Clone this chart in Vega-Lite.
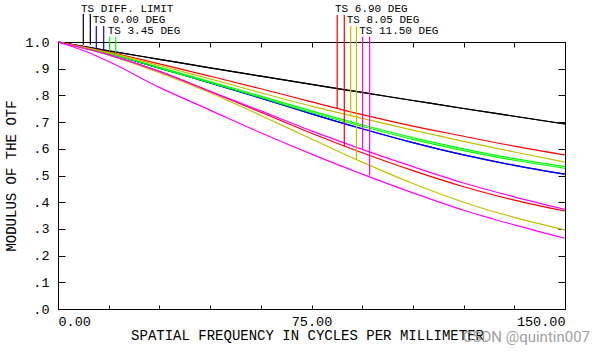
{
  "$schema": "https://vega.github.io/schema/vega-lite/v6.json",
  "width": 507,
  "height": 267,
  "autosize": {"type": "none"},
  "padding": {"left": 58, "top": 42, "right": 30, "bottom": 46},
  "background": "white",
  "config": {
    "view": {"stroke": "black", "strokeWidth": 1},
    "axis": {"grid": false, "domain": false, "tickColor": "black", "labelColor": "black", "titleColor": "black", "labelFont": "Liberation Mono", "titleFont": "Liberation Mono", "titleFontWeight": "normal", "labelFontSize": 13.5, "titleFontSize": 14}
  },
  "datasets": {
    "curves": [
      {"fld": "DIFF. LIMIT", "ts": "T", "f": 0, "v": 1.0}, {"fld": "DIFF. LIMIT", "ts": "T", "f": 15, "v": 0.967}, {"fld": "DIFF. LIMIT", "ts": "T", "f": 30, "v": 0.935}, {"fld": "DIFF. LIMIT", "ts": "T", "f": 45, "v": 0.903}, {"fld": "DIFF. LIMIT", "ts": "T", "f": 60, "v": 0.872}, {"fld": "DIFF. LIMIT", "ts": "T", "f": 75, "v": 0.841}, {"fld": "DIFF. LIMIT", "ts": "T", "f": 90, "v": 0.811}, {"fld": "DIFF. LIMIT", "ts": "T", "f": 105, "v": 0.781}, {"fld": "DIFF. LIMIT", "ts": "T", "f": 120, "v": 0.751}, {"fld": "DIFF. LIMIT", "ts": "T", "f": 135, "v": 0.722}, {"fld": "DIFF. LIMIT", "ts": "T", "f": 150, "v": 0.693},
      {"fld": "DIFF. LIMIT", "ts": "S", "f": 0, "v": 1.0}, {"fld": "DIFF. LIMIT", "ts": "S", "f": 15, "v": 0.967}, {"fld": "DIFF. LIMIT", "ts": "S", "f": 30, "v": 0.935}, {"fld": "DIFF. LIMIT", "ts": "S", "f": 45, "v": 0.903}, {"fld": "DIFF. LIMIT", "ts": "S", "f": 60, "v": 0.872}, {"fld": "DIFF. LIMIT", "ts": "S", "f": 75, "v": 0.841}, {"fld": "DIFF. LIMIT", "ts": "S", "f": 90, "v": 0.811}, {"fld": "DIFF. LIMIT", "ts": "S", "f": 105, "v": 0.781}, {"fld": "DIFF. LIMIT", "ts": "S", "f": 120, "v": 0.751}, {"fld": "DIFF. LIMIT", "ts": "S", "f": 135, "v": 0.722}, {"fld": "DIFF. LIMIT", "ts": "S", "f": 150, "v": 0.693},
      {"fld": "0.00", "ts": "T", "f": 0, "v": 1.0}, {"fld": "0.00", "ts": "T", "f": 15, "v": 0.957}, {"fld": "0.00", "ts": "T", "f": 30, "v": 0.902}, {"fld": "0.00", "ts": "T", "f": 45, "v": 0.847}, {"fld": "0.00", "ts": "T", "f": 60, "v": 0.79}, {"fld": "0.00", "ts": "T", "f": 75, "v": 0.731}, {"fld": "0.00", "ts": "T", "f": 90, "v": 0.675}, {"fld": "0.00", "ts": "T", "f": 105, "v": 0.623}, {"fld": "0.00", "ts": "T", "f": 120, "v": 0.577}, {"fld": "0.00", "ts": "T", "f": 135, "v": 0.538}, {"fld": "0.00", "ts": "T", "f": 150, "v": 0.505},
      {"fld": "0.00", "ts": "S", "f": 0, "v": 1.0}, {"fld": "0.00", "ts": "S", "f": 15, "v": 0.957}, {"fld": "0.00", "ts": "S", "f": 30, "v": 0.902}, {"fld": "0.00", "ts": "S", "f": 45, "v": 0.847}, {"fld": "0.00", "ts": "S", "f": 60, "v": 0.79}, {"fld": "0.00", "ts": "S", "f": 75, "v": 0.731}, {"fld": "0.00", "ts": "S", "f": 90, "v": 0.675}, {"fld": "0.00", "ts": "S", "f": 105, "v": 0.623}, {"fld": "0.00", "ts": "S", "f": 120, "v": 0.577}, {"fld": "0.00", "ts": "S", "f": 135, "v": 0.538}, {"fld": "0.00", "ts": "S", "f": 150, "v": 0.505},
      {"fld": "3.45", "ts": "T", "f": 0, "v": 1.0}, {"fld": "3.45", "ts": "T", "f": 15, "v": 0.958}, {"fld": "3.45", "ts": "T", "f": 30, "v": 0.905}, {"fld": "3.45", "ts": "T", "f": 45, "v": 0.852}, {"fld": "3.45", "ts": "T", "f": 60, "v": 0.797}, {"fld": "3.45", "ts": "T", "f": 75, "v": 0.742}, {"fld": "3.45", "ts": "T", "f": 90, "v": 0.69}, {"fld": "3.45", "ts": "T", "f": 105, "v": 0.642}, {"fld": "3.45", "ts": "T", "f": 120, "v": 0.6}, {"fld": "3.45", "ts": "T", "f": 135, "v": 0.563}, {"fld": "3.45", "ts": "T", "f": 150, "v": 0.533},
      {"fld": "3.45", "ts": "S", "f": 0, "v": 1.0}, {"fld": "3.45", "ts": "S", "f": 15, "v": 0.957}, {"fld": "3.45", "ts": "S", "f": 30, "v": 0.902}, {"fld": "3.45", "ts": "S", "f": 45, "v": 0.848}, {"fld": "3.45", "ts": "S", "f": 60, "v": 0.792}, {"fld": "3.45", "ts": "S", "f": 75, "v": 0.736}, {"fld": "3.45", "ts": "S", "f": 90, "v": 0.684}, {"fld": "3.45", "ts": "S", "f": 105, "v": 0.635}, {"fld": "3.45", "ts": "S", "f": 120, "v": 0.593}, {"fld": "3.45", "ts": "S", "f": 135, "v": 0.557}, {"fld": "3.45", "ts": "S", "f": 150, "v": 0.527},
      {"fld": "6.90", "ts": "T", "f": 0, "v": 1.0}, {"fld": "6.90", "ts": "T", "f": 15, "v": 0.962}, {"fld": "6.90", "ts": "T", "f": 30, "v": 0.918}, {"fld": "6.90", "ts": "T", "f": 45, "v": 0.872}, {"fld": "6.90", "ts": "T", "f": 60, "v": 0.825}, {"fld": "6.90", "ts": "T", "f": 75, "v": 0.776}, {"fld": "6.90", "ts": "T", "f": 90, "v": 0.728}, {"fld": "6.90", "ts": "T", "f": 105, "v": 0.685}, {"fld": "6.90", "ts": "T", "f": 120, "v": 0.647}, {"fld": "6.90", "ts": "T", "f": 135, "v": 0.61}, {"fld": "6.90", "ts": "T", "f": 150, "v": 0.577},
      {"fld": "6.90", "ts": "S", "f": 0, "v": 1.0}, {"fld": "6.90", "ts": "S", "f": 15, "v": 0.952}, {"fld": "6.90", "ts": "S", "f": 30, "v": 0.89}, {"fld": "6.90", "ts": "S", "f": 45, "v": 0.815}, {"fld": "6.90", "ts": "S", "f": 60, "v": 0.737}, {"fld": "6.90", "ts": "S", "f": 75, "v": 0.658}, {"fld": "6.90", "ts": "S", "f": 90, "v": 0.585}, {"fld": "6.90", "ts": "S", "f": 105, "v": 0.518}, {"fld": "6.90", "ts": "S", "f": 120, "v": 0.458}, {"fld": "6.90", "ts": "S", "f": 135, "v": 0.408}, {"fld": "6.90", "ts": "S", "f": 150, "v": 0.367},
      {"fld": "8.05", "ts": "T", "f": 0, "v": 1.0}, {"fld": "8.05", "ts": "T", "f": 15, "v": 0.96}, {"fld": "8.05", "ts": "T", "f": 30, "v": 0.912}, {"fld": "8.05", "ts": "T", "f": 45, "v": 0.862}, {"fld": "8.05", "ts": "T", "f": 60, "v": 0.81}, {"fld": "8.05", "ts": "T", "f": 75, "v": 0.76}, {"fld": "8.05", "ts": "T", "f": 90, "v": 0.714}, {"fld": "8.05", "ts": "T", "f": 105, "v": 0.67}, {"fld": "8.05", "ts": "T", "f": 120, "v": 0.628}, {"fld": "8.05", "ts": "T", "f": 135, "v": 0.588}, {"fld": "8.05", "ts": "T", "f": 150, "v": 0.55},
      {"fld": "8.05", "ts": "S", "f": 0, "v": 1.0}, {"fld": "8.05", "ts": "S", "f": 15, "v": 0.951}, {"fld": "8.05", "ts": "S", "f": 30, "v": 0.885}, {"fld": "8.05", "ts": "S", "f": 45, "v": 0.81}, {"fld": "8.05", "ts": "S", "f": 60, "v": 0.725}, {"fld": "8.05", "ts": "S", "f": 75, "v": 0.637}, {"fld": "8.05", "ts": "S", "f": 90, "v": 0.55}, {"fld": "8.05", "ts": "S", "f": 105, "v": 0.47}, {"fld": "8.05", "ts": "S", "f": 120, "v": 0.4}, {"fld": "8.05", "ts": "S", "f": 135, "v": 0.343}, {"fld": "8.05", "ts": "S", "f": 150, "v": 0.296},
      {"fld": "11.50", "ts": "T", "f": 0, "v": 1.0}, {"fld": "11.50", "ts": "T", "f": 15, "v": 0.952}, {"fld": "11.50", "ts": "T", "f": 30, "v": 0.89}, {"fld": "11.50", "ts": "T", "f": 45, "v": 0.815}, {"fld": "11.50", "ts": "T", "f": 60, "v": 0.742}, {"fld": "11.50", "ts": "T", "f": 75, "v": 0.667}, {"fld": "11.50", "ts": "T", "f": 90, "v": 0.598}, {"fld": "11.50", "ts": "T", "f": 105, "v": 0.533}, {"fld": "11.50", "ts": "T", "f": 120, "v": 0.472}, {"fld": "11.50", "ts": "T", "f": 135, "v": 0.42}, {"fld": "11.50", "ts": "T", "f": 150, "v": 0.373},
      {"fld": "11.50", "ts": "S", "f": 0, "v": 1.0}, {"fld": "11.50", "ts": "S", "f": 7.5, "v": 0.968}, {"fld": "11.50", "ts": "S", "f": 15, "v": 0.927}, {"fld": "11.50", "ts": "S", "f": 30, "v": 0.83}, {"fld": "11.50", "ts": "S", "f": 45, "v": 0.745}, {"fld": "11.50", "ts": "S", "f": 60, "v": 0.66}, {"fld": "11.50", "ts": "S", "f": 75, "v": 0.58}, {"fld": "11.50", "ts": "S", "f": 90, "v": 0.505}, {"fld": "11.50", "ts": "S", "f": 105, "v": 0.435}, {"fld": "11.50", "ts": "S", "f": 120, "v": 0.37}, {"fld": "11.50", "ts": "S", "f": 135, "v": 0.315}, {"fld": "11.50", "ts": "S", "f": 150, "v": 0.265}
    ],
    "keys": [
      {"fld": "DIFF. LIMIT", "f": 7.49, "lo": 0.99, "hi": 1.105},
      {"fld": "DIFF. LIMIT", "f": 9.56, "lo": 0.99, "hi": 1.105},
      {"fld": "0.00", "f": 11.33, "lo": 0.975, "hi": 1.06},
      {"fld": "0.00", "f": 13.52, "lo": 0.972, "hi": 1.06},
      {"fld": "3.45", "f": 15.3, "lo": 0.965, "hi": 1.02},
      {"fld": "3.45", "f": 17.07, "lo": 0.96, "hi": 1.02},
      {"fld": "6.90", "f": 82.6, "lo": 0.75, "hi": 1.101},
      {"fld": "6.90", "f": 84.7, "lo": 0.608, "hi": 1.101},
      {"fld": "8.05", "f": 86.6, "lo": 0.726, "hi": 1.06},
      {"fld": "8.05", "f": 88.3, "lo": 0.558, "hi": 1.06},
      {"fld": "11.50", "f": 90.1, "lo": 0.598, "hi": 1.02},
      {"fld": "11.50", "f": 92.2, "lo": 0.5, "hi": 1.02}
    ],
    "labels": [
      {"f": 6.8, "v": 1.111, "label": "TS DIFF. LIMIT"},
      {"f": 10.27, "v": 1.07, "label": "TS 0.00 DEG"},
      {"f": 14.7, "v": 1.029, "label": "TS 3.45 DEG"},
      {"f": 81.95, "v": 1.111, "label": "TS 6.90 DEG"},
      {"f": 85.4, "v": 1.07, "label": "TS 8.05 DEG"},
      {"f": 89.1, "v": 1.029, "label": "TS 11.50 DEG"}
    ],
    "mark": [
      {"f": 157.4, "v": -0.125, "label": "CSDN @quintin007"}
    ]
  },
  "layer": [
    {
      "data": {"name": "curves"},
      "mark": {"type": "line", "strokeWidth": 1.2, "interpolate": "monotone"},
      "encoding": {
        "x": {"field": "f", "type": "quantitative", "scale": {"domain": [0, 150], "nice": false},
          "axis": {"orient": "bottom", "values": [0, 15, 30, 45, 60, 75, 90, 105, 120, 135, 150], "labelExpr": "datum.value % 75 == 0 ? format(datum.value, '.2f') : ''", "labelFlush": true, "tickSize": -4, "labelPadding": 9, "title": "SPATIAL FREQUENCY IN CYCLES PER MILLIMETER", "titlePadding": 1, "titleX": 249}},
        "y": {"field": "v", "type": "quantitative", "scale": {"domain": [0, 1], "nice": false},
          "axis": {"orient": "left", "values": [0, 0.1, 0.2, 0.3, 0.4, 0.5, 0.6, 0.7, 0.8, 0.9, 1], "labelExpr": "datum.value >= 1 ? '1.0' : '.' + format(datum.value * 10, 'd')", "tickSize": -7, "labelPadding": 16, "title": "MODULUS OF THE OTF", "titlePadding": 6}},
        "color": {"field": "fld", "type": "nominal", "legend": null,
          "scale": {"domain": ["DIFF. LIMIT", "0.00", "3.45", "6.90", "8.05", "11.50"], "range": ["#000000", "#0000ff", "#00ff00", "#ff0000", "#c0c000", "#ff00ff"]}},
        "detail": {"field": "ts", "type": "nominal"}
      }
    },
    {
      "data": {"name": "keys"},
      "mark": {"type": "rule", "strokeWidth": 1.2},
      "encoding": {
        "x": {"field": "f", "type": "quantitative", "scale": {"domain": [0, 150], "nice": false},
          "axis": {"orient": "top", "values": [0, 15, 30, 45, 60, 75, 90, 105, 120, 135, 150], "labels": false, "tickSize": -5, "title": null}},
        "y": {"field": "lo", "type": "quantitative", "scale": {"domain": [0, 1], "nice": false},
          "axis": {"orient": "right", "values": [0, 0.1, 0.2, 0.3, 0.4, 0.5, 0.6, 0.7, 0.8, 0.9, 1], "labels": false, "tickSize": -7, "title": null}},
        "y2": {"field": "hi"},
        "color": {"field": "fld", "type": "nominal", "legend": null,
          "scale": {"domain": ["DIFF. LIMIT", "0.00", "3.45", "6.90", "8.05", "11.50"], "range": ["#000000", "#0000ff", "#00ff00", "#ff0000", "#c0c000", "#ff00ff"]}}
      }
    },
    {
      "data": {"name": "labels"},
      "mark": {"type": "text", "align": "left", "baseline": "alphabetic", "font": "Liberation Mono", "fontSize": 11, "color": "black"},
      "encoding": {
        "x": {"field": "f", "type": "quantitative", "scale": {"domain": [0, 150], "nice": false}, "axis": null},
        "y": {"field": "v", "type": "quantitative", "scale": {"domain": [0, 1], "nice": false}, "axis": null},
        "text": {"field": "label"}
      }
    },
    {
      "data": {"name": "mark"},
      "mark": {"type": "text", "align": "right", "baseline": "alphabetic", "font": "Roboto", "fontSize": 15, "color": "#a0a0a0"},
      "encoding": {
        "x": {"field": "f", "type": "quantitative", "scale": {"domain": [0, 150], "nice": false}, "axis": null},
        "y": {"field": "v", "type": "quantitative", "scale": {"domain": [0, 1], "nice": false}, "axis": null},
        "text": {"field": "label"}
      }
    }
  ],
  "resolve": {"axis": {"x": "independent", "y": "independent"}}
}
